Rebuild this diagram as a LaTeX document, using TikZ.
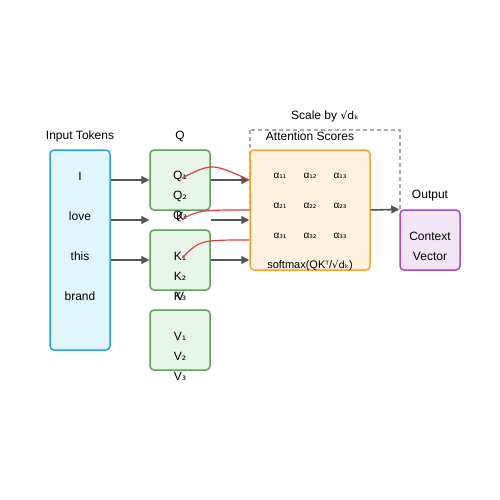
\documentclass[tikz,border=0pt]{standalone}
\usepackage{fontspec}
\setmainfont{Liberation Sans}
\newfontfamily\dvfont{DejaVu Sans}[Scale=0.9]
\usetikzlibrary{arrows.meta}
\newcommand{\dvs}[1]{{\dvfont #1}}
\definecolor{inblue}{HTML}{2E9FDB}
\definecolor{infill}{HTML}{E1F5FE}
\definecolor{qgreen}{HTML}{5CA35C}
\definecolor{qfill}{HTML}{E8F5E9}
\definecolor{aorange}{HTML}{F9A334}
\definecolor{afill}{HTML}{FFF3E0}
\definecolor{opurple}{HTML}{A54DBE}
\definecolor{ofill}{HTML}{F3E5F5}
\definecolor{arrgrey}{HTML}{555555}
\definecolor{dashgrey}{HTML}{AAAAAA}
\definecolor{redc}{HTML}{DD4040}
\begin{document}
\begin{tikzpicture}[x=1pt,y=-1pt,
  font=\fontsize{12}{14}\selectfont,
  box/.style={draw, rounded corners=4pt, line width=1.5pt, inner sep=0pt},
  inbox/.style={box, draw=inblue, fill=infill},
  qkvbox/.style={box, draw=qgreen, fill=qfill, minimum width=60pt, minimum height=60pt},
  attbox/.style={box, draw=aorange, fill=afill},
  outbox/.style={box, draw=opurple, fill=ofill},
  txt/.style={inner sep=0pt},
  small/.style={inner sep=0pt, font=\fontsize{10}{12}\selectfont},
  arr/.style={draw=arrgrey, line width=1.5pt, -{Triangle[length=8pt,width=8pt]}},
  redcurve/.style={draw=redc, line width=1.2pt},
  dashbox/.style={draw=dashgrey, line width=1.2pt, dash pattern=on 4pt off 3pt}
]
\useasboundingbox (0,0) rectangle (500,500);
% dashed scale box
\draw[dashbox] (250,130) rectangle (400,210);
\node[txt] (scale) at (325,116) {Scale by \dvs{√dₖ}};
% input
\node[inbox, minimum width=60pt, minimum height=200pt] (inp) at (80,250) {};
\node[txt] (inlbl) at (80,136) {Input Tokens};
\node[txt] (tI) at (80,176) {I};
\node[txt] (tlove) at (80,216) {love};
\node[txt] (tthis) at (80,256) {this};
\node[txt] (tbrand) at (80,296) {brand};
% Q K V
\node[qkvbox] (qb) at (180,180) {};
\node[qkvbox] (kb) at (180,260) {};
\node[qkvbox] (vb) at (180,340) {};
\node[txt] (qlbl) at (180,136) {Q};
\node[txt] (q1) at (180,176) {Q\dvs{₁}};
\node[txt] (q2) at (180,196) {Q\dvs{₂}};
\node[txt] (q3) at (180,216) {Q\dvs{₃}};
\node[txt] (klbl) at (180,216) {K};
\node[txt] (k1) at (180,256) {K\dvs{₁}};
\node[txt] (k2) at (180,276) {K\dvs{₂}};
\node[txt] (k3) at (180,296) {K\dvs{₃}};
\node[txt] (vlbl) at (180,296) {V};
\node[txt] (v1) at (180,336) {V\dvs{₁}};
\node[txt] (v2) at (180,356) {V\dvs{₂}};
\node[txt] (v3) at (180,376) {V\dvs{₃}};
% attention
\node[attbox, minimum width=120pt, minimum height=120pt] (att) at (310,210) {};
\node[txt] (attlbl) at (310,136) {Attention Scores};
\foreach \i/\y in {1/176,2/206,3/236}{
  \foreach \j/\x in {1/280,2/310,3/340}{
    \node[small] (a\i\j) at (\x,\y) {α\dvs{\ifcase\i\or ₁\or ₂\or ₃\fi\ifcase\j\or ₁\or ₂\or ₃\fi}};
  }
}
\node[txt, font=\fontsize{11}{13}\selectfont] (soft) at (310,266) {softmax(QK\dvs{ᵀ}/\dvs{√dₖ})};
% output
\node[outbox, minimum width=60pt, minimum height=60pt] (out) at (430,240) {};
\node[txt] (outlbl) at (430,196) {Output};
\node[txt] (ctx) at (430,236) {Context};
\node[txt] (vec) at (430,256) {Vector};
% arrows
\coordinate (r1) at (0,180);
\coordinate (r2) at (0,220);
\coordinate (r3) at (0,260);
\draw[arr] (inp.east |- r1) -- (qb.west |- r1);
\draw[arr] (inp.east |- r2) -- (qb.west |- r2);
\draw[arr] (inp.east |- r3) -- (qb.west |- r3);
\draw[arr] (qb.east |- r1) -- (att.west |- r1);
\draw[arr] (qb.east |- r2) -- (att.west |- r2);
\draw[arr] (kb.east |- r3) -- (att.west |- r3);
\draw[arr] (att.east) -- (out.north west);
% red curves
\draw[redcurve] ([shift={(2pt,-2pt)}]q1.center) .. controls (212,163) .. ([yshift=30pt]att.west);
\draw[redcurve] ([shift={(2pt,-3pt)}]q3.center) .. controls (200,210) .. (att.west);
\draw[redcurve] ([shift={(2pt,-2pt)}]k1.center) .. controls (200,240) .. ([yshift=-30pt]att.west);
\end{tikzpicture}
\end{document}
